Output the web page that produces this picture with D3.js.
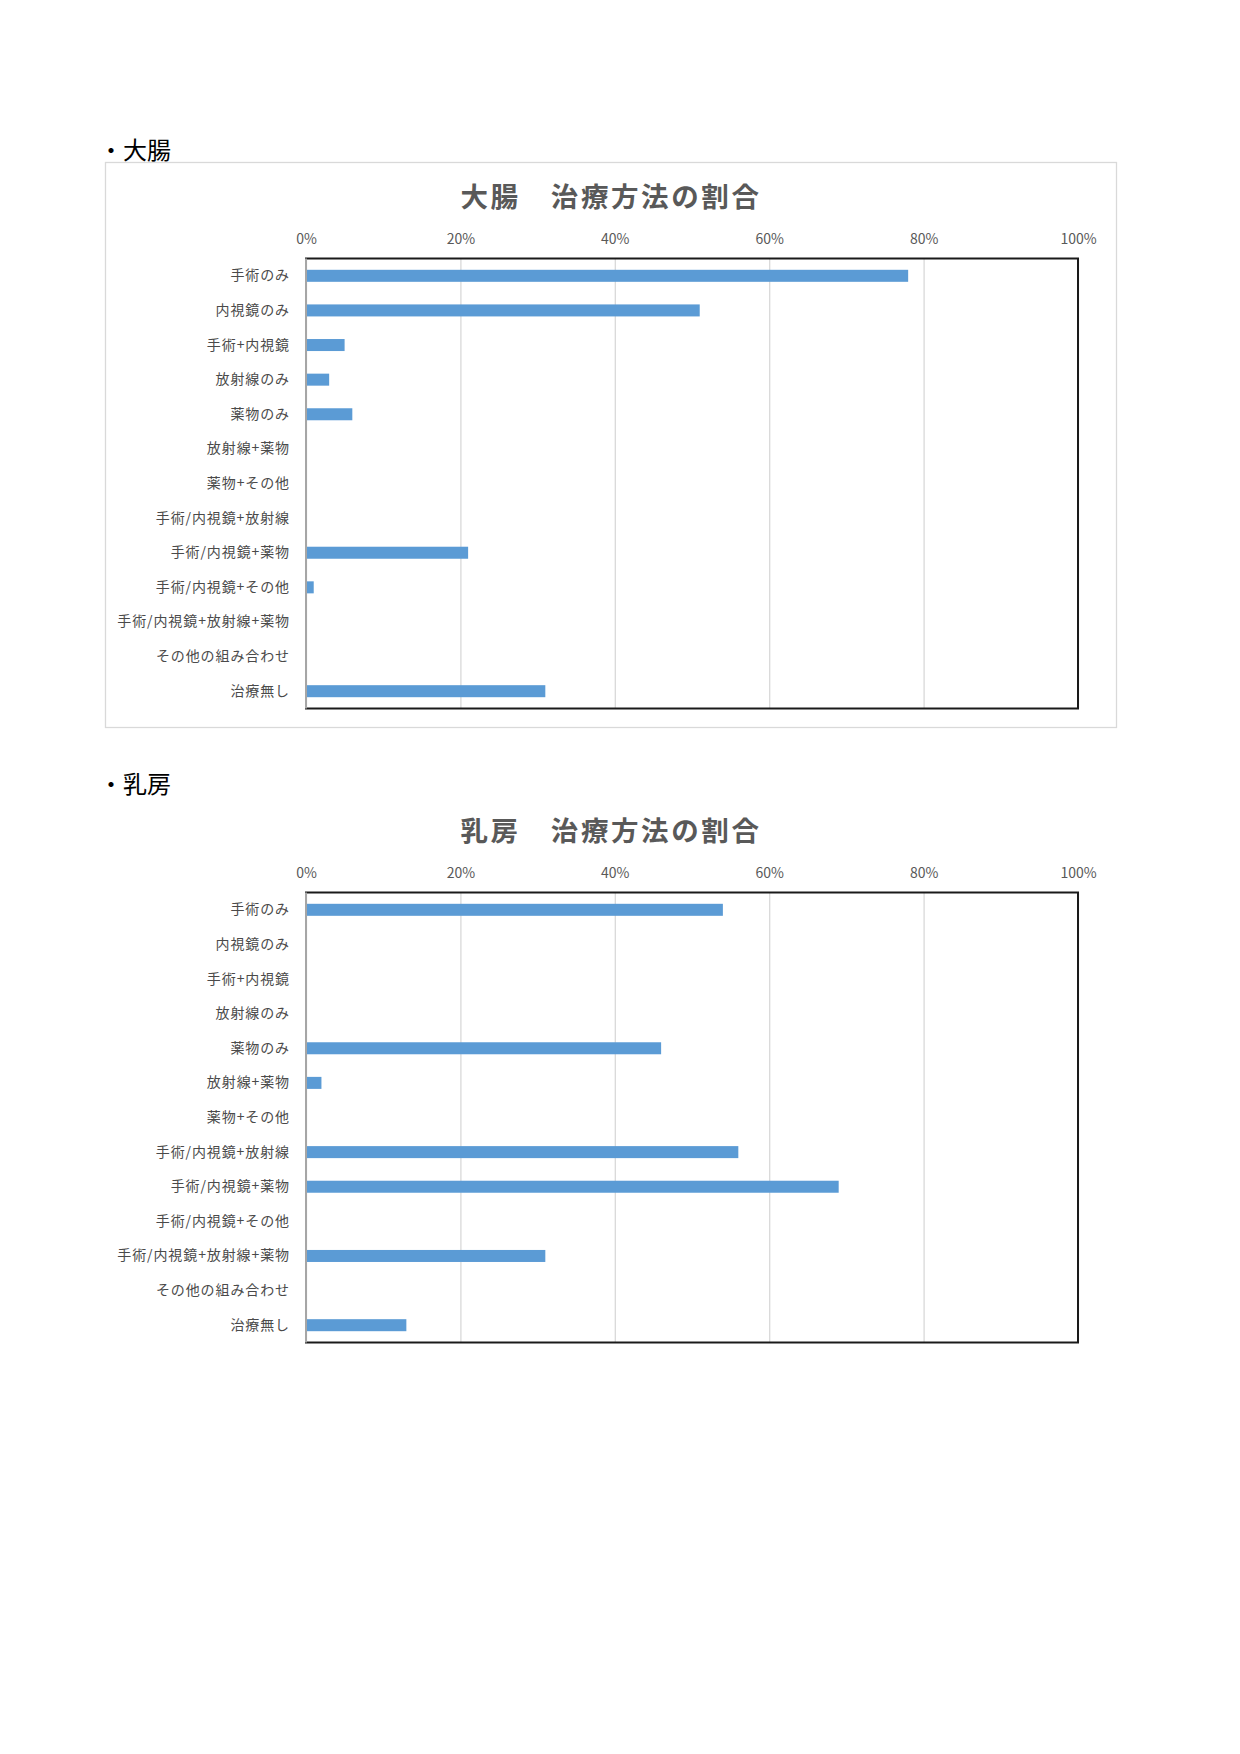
<!DOCTYPE html>
<html lang="ja">
<head>
<meta charset="utf-8">
<script src="https://cdn.jsdelivr.net/npm/d3@7"></script>
<style>
  body { margin: 0; background: #fff; }
  svg text { font-family: "Noto Sans CJK JP", "Noto Sans", sans-serif; }
</style>
</head>
<body>
<svg id="page"></svg>
<script>
// data
const categories = [
  '手術のみ', '内視鏡のみ', '手術+内視鏡', '放射線のみ', '薬物のみ',
  '放射線+薬物', '薬物+その他', '手術/内視鏡+放射線', '手術/内視鏡+薬物',
  '手術/内視鏡+その他', '手術/内視鏡+放射線+薬物', 'その他の組み合わせ', '治療無し'
];
const colonValues  = [0.78, 0.51, 0.05, 0.03, 0.06, 0, 0, 0, 0.21, 0.01, 0, 0, 0.31];
const breastValues = [0.54, 0, 0, 0, 0.46, 0.02, 0, 0.56, 0.69, 0, 0.31, 0, 0.13];
const xTicks = [0, 0.2, 0.4, 0.6, 0.8, 1.0];

const headings = ['・大腸', '・乳房'];
const titles = ['大腸　治療方法の割合', '乳房　治療方法の割合'];

const svg = d3.select('#page')
  .attr('width', 1240)
  .attr('height', 1754);

function drawChart(opts) {
  const plot = { left: 306, right: 1078, top: opts.top, bottom: opts.top + 450 };
  const w = plot.right - plot.left;
  const h = plot.bottom - plot.top;

  // section heading above the chart
  svg.append('text')
    .attr('x', 99)
    .attr('y', opts.top - 110)
    .attr('dominant-baseline', 'central')
    .attr('font-size', 24)
    .attr('fill', '#000')
    .text(opts.heading);

  // light outer chart border (only the first chart has one)
  if (opts.border) {
    svg.append('rect')
      .attr('x', 105.5)
      .attr('y', opts.top - 96)
      .attr('width', 1011)
      .attr('height', 565)
      .attr('fill', 'none')
      .attr('stroke', '#d9d9d9')
      .attr('stroke-width', 1.3);
  }

  svg.append('text')
    .attr('x', 611)
    .attr('y', opts.top - 64)
    .attr('text-anchor', 'middle')
    .attr('dominant-baseline', 'central')
    .attr('font-size', 27.5)
    .attr('font-weight', 'bold')
    .attr('letter-spacing', 2.6)
    .attr('fill', '#595959')
    .text(opts.title);

  const x = d3.scaleLinear().domain([0, 1]).range([0, w]);
  const y = d3.scaleBand()
    .domain(categories)
    .range([0, h])
    .paddingInner(0.653)
    .paddingOuter(0.3265);

  const g = svg.append('g')
    .attr('transform', `translate(${plot.left},${plot.top})`);

  // gridlines
  const grid = g.append('g')
    .attr('transform', `translate(0,${h})`)
    .call(d3.axisBottom(x).tickValues(xTicks).tickSize(-h).tickFormat(''));
  grid.select('.domain').remove();
  grid.selectAll('line').attr('stroke', '#d9d9d9').attr('stroke-width', 1.3);

  // percent labels on top
  const xAxisG = g.append('g')
    .attr('transform', 'translate(0,-19)')
    .call(d3.axisTop(x).tickValues(xTicks).tickSize(0).tickPadding(0).tickFormat(d3.format('.0%')));
  xAxisG.select('.domain').remove();
  xAxisG.selectAll('text')
    .attr('font-size', 14)
    .attr('fill', '#595959')
    .attr('dy', '0.35em')
    .style('font-family', '"Noto Sans CJK JP", sans-serif');

  // bars
  g.append('g')
    .selectAll('rect')
    .data(opts.values.map((v, i) => ({ cat: categories[i], v: v })).filter(d => d.v > 0))
    .join('rect')
    .attr('x', 1)
    .attr('y', d => y(d.cat))
    .attr('width', d => x(d.v) - 1)
    .attr('height', y.bandwidth())
    .attr('fill', '#5b9bd5');

  // category labels
  const yAxisG = g.append('g')
    .call(d3.axisLeft(y).tickSize(0).tickPadding(16));
  yAxisG.select('.domain').remove();
  yAxisG.selectAll('text')
    .attr('font-size', 14)
    .attr('letter-spacing', 0.9)
    .attr('fill', '#4a4a4a')
    .style('font-family', '"Noto Sans CJK JP", sans-serif');

  // plot frame
  g.append('rect')
    .attr('width', w)
    .attr('height', h)
    .attr('fill', 'none')
    .attr('stroke', '#1a1a1a')
    .attr('stroke-width', 2);

  g.append('line')
    .attr('x1', 0).attr('x2', 0)
    .attr('y1', 0).attr('y2', h)
    .attr('stroke', '#a6a6a6')
    .attr('stroke-width', 2);
}

drawChart({ top: 258.5, heading: headings[0], title: titles[0], values: colonValues, border: true });
drawChart({ top: 892.5, heading: headings[1], title: titles[1], values: breastValues, border: false });
</script>
</body>
</html>
